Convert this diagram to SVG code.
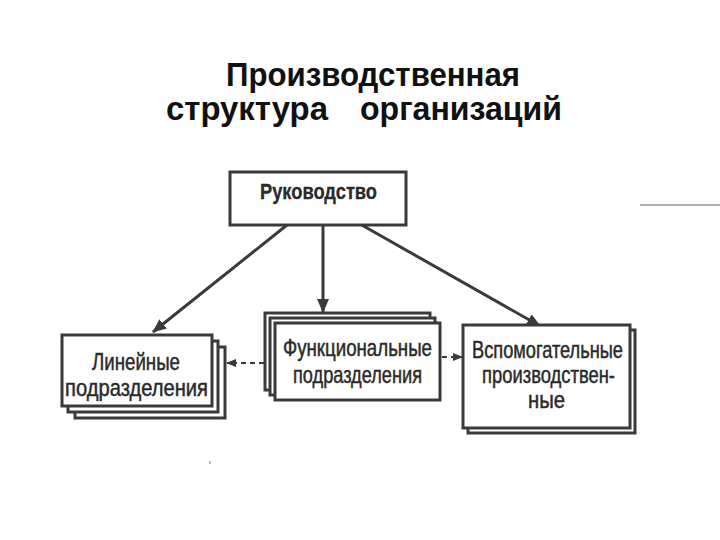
<svg xmlns="http://www.w3.org/2000/svg" width="720" height="540" viewBox="0 0 720 540">
<style>
.title{font-family:"Liberation Sans",Arial,sans-serif;font-weight:bold;font-size:33px;fill:#111}
.box{fill:#fff;stroke:#3a3a3a;stroke-width:3}
.lbl{font-family:"Liberation Sans",Arial,sans-serif;font-size:24px;fill:#2a2a2a;stroke:#2a2a2a;stroke-width:0.5}
.bold{font-weight:bold;font-size:22px;stroke-width:0.3}
.conn{stroke:#3a3a3a;stroke-width:3;fill:none}
.dash{stroke:#3a3a3a;stroke-width:2;fill:none;stroke-dasharray:5 4}
</style>
<defs>
<marker id="ah" markerUnits="userSpaceOnUse" markerWidth="14" markerHeight="12" refX="13" refY="6" orient="auto">
<path d="M0,0 L14,6 L0,12 Z" fill="#3a3a3a"/>
</marker>
<marker id="ahs" markerUnits="userSpaceOnUse" markerWidth="10" markerHeight="8" refX="9" refY="4" orient="auto">
<path d="M0,0 L10,4 L0,8 Z" fill="#3a3a3a"/>
</marker>
</defs>
<rect width="720" height="540" fill="#fff"/>
<g id="title">
<text class="title" x="226" y="86" textLength="294" lengthAdjust="spacingAndGlyphs">Производственная</text>
<text class="title" y="120"><tspan x="166" textLength="162" lengthAdjust="spacingAndGlyphs">структура</tspan><tspan x="360" textLength="202" lengthAdjust="spacingAndGlyphs">организаций</tspan></text>
</g>
<g id="connectors">
<line class="conn" x1="287" y1="225" x2="153" y2="332" marker-end="url(#ah)"/>
<line class="conn" x1="323" y1="225" x2="323" y2="312" marker-end="url(#ah)"/>
<line class="conn" x1="360" y1="224" x2="540" y2="326" marker-end="url(#ah)"/>
<line class="dash" x1="264" y1="363" x2="227" y2="363" marker-end="url(#ahs)"/>
<line class="dash" x1="442" y1="357" x2="462" y2="357" marker-end="url(#ahs)"/>
</g>
<g id="rukovodstvo">
<rect class="box" x="230" y="172" width="176" height="53"/>
<text class="lbl bold" x="260" y="199" textLength="117" lengthAdjust="spacingAndGlyphs">Руководство</text>
</g>
<g id="lineynye">
<rect class="box" x="75" y="347" width="150" height="71"/>
<rect class="box" x="68" y="341" width="150" height="71"/>
<rect class="box" x="62" y="335" width="150" height="71"/>
<text class="lbl" x="92" y="370" textLength="88" lengthAdjust="spacingAndGlyphs">Линейные</text>
<text class="lbl" x="65" y="396" textLength="143" lengthAdjust="spacingAndGlyphs">подразделения</text>
</g>
<g id="funktsionalnye">
<rect class="box" x="265" y="313" width="165" height="77"/>
<rect class="box" x="270" y="318" width="165" height="77"/>
<rect class="box" x="275" y="323" width="165" height="77"/>
<text class="lbl" x="283" y="356" textLength="149" lengthAdjust="spacingAndGlyphs">Функциональные</text>
<text class="lbl" x="293" y="383" textLength="129" lengthAdjust="spacingAndGlyphs">подразделения</text>
</g>
<g id="vspomogatelnye">
<rect class="box" x="468" y="330" width="167" height="103"/>
<rect class="box" x="463" y="325" width="167" height="103"/>
<text class="lbl" x="472" y="358" textLength="151" lengthAdjust="spacingAndGlyphs">Вспомогательные</text>
<text class="lbl" x="482" y="383" textLength="133" lengthAdjust="spacingAndGlyphs">производствен-</text>
<text class="lbl" x="528" y="408" textLength="37" lengthAdjust="spacingAndGlyphs">ные</text>
</g>
<line x1="640" y1="205" x2="720" y2="205" stroke="#999" stroke-width="1.5"/>
<rect x="209" y="461" width="2" height="3" fill="#bbb"/>
</svg>
